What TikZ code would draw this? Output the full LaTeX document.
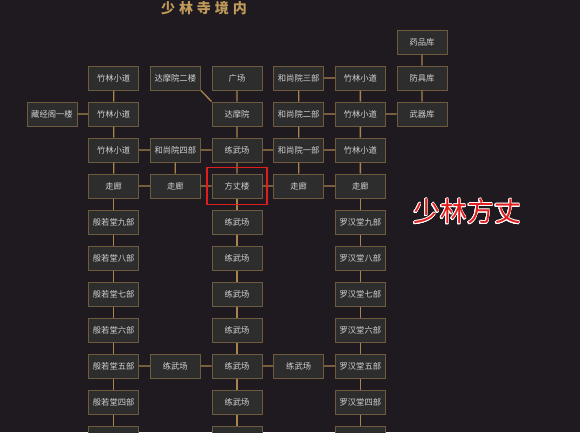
\documentclass[tikz,border=0pt]{standalone}
\usepackage{fontspec}
\setmainfont{Noto Sans CJK SC}
\newfontfamily\titlefont[LetterSpace=28]{Noto Sans CJK SC}
\usepackage[copies]{contour}
\usetikzlibrary{fit}
\definecolor{bgdark}{HTML}{1E1A1F}
\definecolor{roomfill}{HTML}{2D2D2D}
\definecolor{roomline}{HTML}{6E5A3C}
\definecolor{pathgold}{HTML}{A8854E}
\definecolor{titlegold}{HTML}{BF9A5A}
\definecolor{roomtext}{HTML}{D2D2D2}
\definecolor{markred}{HTML}{E01E1E}

\begin{document}
\begin{tikzpicture}[x=61.67pt,y=-36pt]
		\tikzstyle{room}=[draw=roomline,fill=roomfill,line width=1pt,minimum width=50pt,
		minimum height=24pt,inner sep=0pt,text=roomtext,font=\fontsize{8.3}{8.3}\selectfont]
		\tikzstyle{link}=[draw=pathgold,line width=1.3pt]
		
		\clip (-52pt,42pt) rectangle (528pt,-390pt);
		\fill[bgdark] (-52pt,42pt) rectangle (528pt,-390pt);
		
		\node[text=titlegold,font=\titlefont\bfseries\fontsize{14}{14}\selectfont] (Title) at (152pt,34pt) {少林寺境内};
		
		% top rows
		\node[room] (G0) at (6,0) {药品库};
		\node[room] (B1) at (1,1) {竹林小道};
		\node[room] (C1) at (2,1) {达摩院二楼};
		\node[room] (D1) at (3,1) {广场};
		\node[room] (E1) at (4,1) {和尚院三部};
		\node[room] (F1) at (5,1) {竹林小道};
		\node[room] (G1) at (6,1) {防具库};
		\node[room] (A2) at (0,2) {藏经阁一楼};
		\node[room] (B2) at (1,2) {竹林小道};
		\node[room] (D2) at (3,2) {达摩院};
		\node[room] (E2) at (4,2) {和尚院二部};
		\node[room] (F2) at (5,2) {竹林小道};
		\node[room] (G2) at (6,2) {武器库};
		\node[room] (B3) at (1,3) {竹林小道};
		\node[room] (C3) at (2,3) {和尚院四部};
		\node[room] (D3) at (3,3) {练武场};
		\node[room] (E3) at (4,3) {和尚院一部};
		\node[room] (F3) at (5,3) {竹林小道};
		\node[room] (B4) at (1,4) {走廊};
		\node[room] (C4) at (2,4) {走廊};
		\node[room] (D4) at (3,4) {方丈楼};
		\node[room] (E4) at (4,4) {走廊};
		\node[room] (F4) at (5,4) {走廊};
		
		% long halls
		\foreach \k/\num in {5/九,6/八,7/七,8/六,9/五,10/四} {
			\node[room] (B\k) at (1,\k) {般若堂\num 部};
			\node[room] (D\k) at (3,\k) {练武场};
			\node[room] (F\k) at (5,\k) {罗汉堂\num 部};
		}
		\node[room] (B11) at (1,11) {};
		\node[room] (D11) at (3,11) {};
		\node[room] (F11) at (5,11) {};
		\node[room] (C9) at (2,9) {练武场};
		\node[room] (E9) at (4,9) {练武场};
		
		\path[link] (G0) -- (G1)  (G1) -- (G2)  (F2) -- (G2)
		(B1) -- (B2)  (A2) -- (B2)  (B2) -- (B3)
		(B3) -- (C3)  (C3) -- (D3)  (D3) -- (E3)  (E3) -- (F3)
		(C1.south east) -- (D2.north west)
		(D1) -- (D2)  (D2) -- (D3)  (D3) -- (D4)
		(C3) -- (C4)  (B3) -- (B4)
		(B4) -- (C4)  (C4) -- (D4)  (D4) -- (E4)  (E4) -- (F4)
		(E1) -- (F1)  (E1) -- (E2)  (E2) -- (F2)  (E2) -- (E3)  (E3) -- (E4)
		(F1) -- (F2)  (F2) -- (F3)  (F3) -- (F4)
		(B9) -- (C9)  (C9) -- (D9)  (D9) -- (E9)  (E9) -- (F9)
		;
		\foreach \k [evaluate=\k as \j using int(\k+1)] in {4,...,10} {
			\path[link] (B\k) -- (B\j)  (D\k) -- (D\j)  (F\k) -- (F\j);
		}
		
		\node[draw=markred,line width=1.5pt,inner xsep=4.5pt,inner ysep=6pt,fit=(D4)] (Mark) {};
		\contourlength{0.9pt}
		\node[text=markred,font=\fontsize{27}{27}\selectfont] (MarkLabel) at (415pt,-170pt) {\contour{white}{少林方丈}};
\end{tikzpicture}
\end{document}
